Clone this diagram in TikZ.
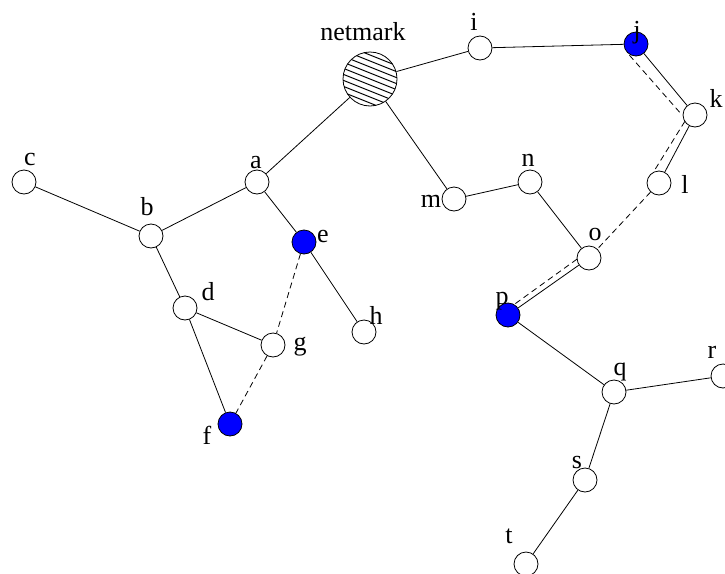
\documentclass[tikz,border=0pt]{standalone}
\usepackage{fontspec}
\setmainfont{Liberation Serif}
\usetikzlibrary{calc}
\begin{document}
\begin{tikzpicture}[x=1pt,y=-1pt,
  vtx/.style={circle,draw,line width=0.8pt,minimum size=24pt,inner sep=0pt,fill=white},
  sel/.style={vtx,fill=blue},
  lbl/.style={anchor=base,inner sep=0pt,font=\fontsize{26}{26}\selectfont},
  edge/.style={line width=0.8pt},
  dedge/.style={line width=0.8pt,dash pattern=on 6pt off 4pt}]
\useasboundingbox (0,0) rectangle (725,573);
% nodes
\node[circle,draw,line width=0.8pt,minimum size=54pt,inner sep=0pt] (net) at (370,79) {};
\begin{scope}
  \clip (370,79) circle (27);
  \foreach \k in {-7,...,7} {
    \draw[line width=1pt] (330,{79+\k*6-16}) -- (410,{79+\k*6+16});
  }
\end{scope}
\node[vtx] (i) at (480,48) {};
\node[sel] (j) at (636,44) {};
\node[vtx] (k) at (695,115) {};
\node[vtx] (l) at (659,183) {};
\node[vtx] (m) at (454,199) {};
\node[vtx] (n) at (530,182) {};
\node[vtx] (o) at (589,258) {};
\node[sel] (p) at (508,315) {};
\node[vtx] (q) at (614,392) {};
\node[vtx] (r) at (723,376) {};
\node[vtx] (s) at (585,480) {};
\node[vtx] (t) at (526,564) {};
\node[vtx] (a) at (257,182) {};
\node[vtx] (b) at (151,236) {};
\node[vtx] (c) at (24,182) {};
\node[vtx] (d) at (185,308) {};
\node[sel] (e) at (304,242) {};
\node[sel] (f) at (230,424) {};
\node[vtx] (g) at (273,345) {};
\node[vtx] (h) at (364,332) {};
% solid edges
\draw[edge] (net) -- (i);
\draw[edge] (i) -- (j);
\draw[edge] (j) -- (k);
\draw[edge] (k) -- (l);
\draw[edge] (net) -- (a);
\draw[edge] (net) -- (m);
\draw[edge] (m) -- (n);
\draw[edge] (n) -- (o);
\draw[edge] (o) -- (p);
\draw[edge] (p) -- (q);
\draw[edge] (q) -- (r);
\draw[edge] (q) -- (s);
\draw[edge] (s) -- (t);
\draw[edge] (a) -- (b);
\draw[edge] (b) -- (c);
\draw[edge] (a) -- (e);
\draw[edge] (e) -- (h);
\draw[edge] (b) -- (d);
\draw[edge] (d) -- (g);
\draw[edge] (d) -- (f);
% dashed edges
\draw[dedge] ($(j.center)!13pt!-70:(k.center)$) -- ($(k.center)!13pt!50:(j.center)$);
\draw[dedge] ($(k.center)!12pt!-30:(l.center)$) -- ($(l.center)!13pt!50:(k.center)$);
\draw[dedge] (l) -- (o);
\draw[dedge] ($(o.center)!12pt!-30:(p.center)$) -- ($(p.center)!12pt!25:(o.center)$);
\draw[dedge] (e) -- (g);
\draw[dedge] (g) -- (f);
% labels
\node[lbl] (lnet) at (363,40) {netmark};
\node[lbl] (li) at (474,30) {i};
\node[lbl] (lj) at (637,38) {j};
\node[lbl] (lk) at (716,107) {k};
\node[lbl] (ll) at (685,193) {l};
\node[lbl] (lm) at (431,207) {m};
\node[lbl] (ln) at (528,166) {n};
\node[lbl] (lo) at (595,240) {o};
\node[lbl] (lp) at (502,304) {p};
\node[lbl] (lq) at (620,375) {q};
\node[lbl] (lr) at (712,358) {r};
\node[lbl] (ls) at (577,468) {s};
\node[lbl] (lt) at (509,543) {t};
\node[lbl] (la) at (256,168) {a};
\node[lbl] (lb) at (147,215) {b};
\node[lbl] (lc) at (30,165) {c};
\node[lbl] (ld) at (208,300) {d};
\node[lbl] (le) at (323,242) {e};
\node[lbl] (lf) at (207,444) {f};
\node[lbl] (lg) at (300,350) {g};
\node[lbl] (lh) at (376,324) {h};
\end{tikzpicture}
\end{document}
